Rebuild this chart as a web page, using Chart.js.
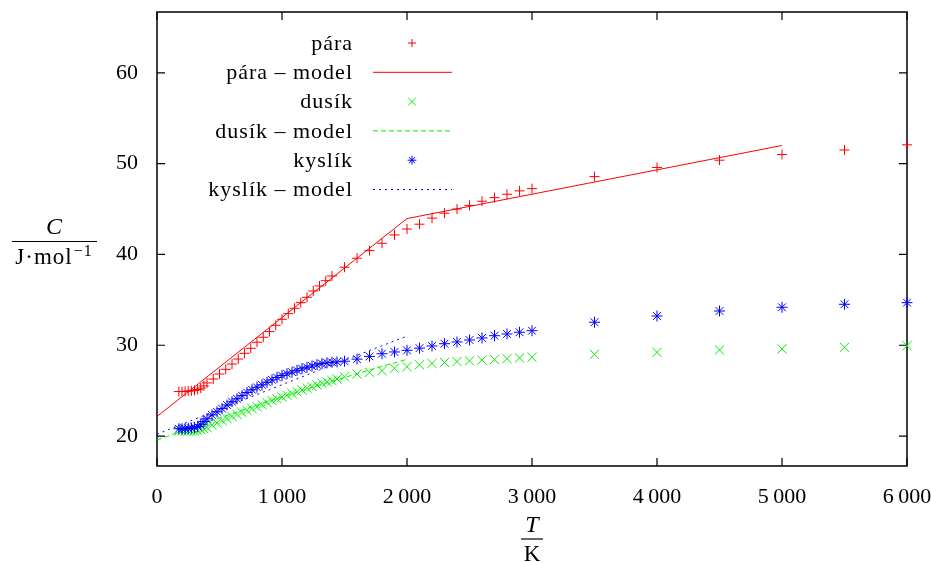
<!DOCTYPE html>
<html>
<head>
<meta charset="utf-8">
<script src="https://cdn.jsdelivr.net/npm/chart.js@4.4.1/dist/chart.umd.min.js"></script>
<style>
  html, body { margin: 0; background: #fff; }
  canvas { display: block; }
</style>
</head>
<body>
<canvas id="heatChart" width="931" height="563"></canvas>
<script>
/* ---------- data ---------- */

// pára – measured points
const paraT = [175, 200, 225, 250, 275, 300, 325, 350, 375, 400,
  450, 500, 550, 600, 650, 700, 750, 800, 850, 900, 950, 1000,
  1050, 1100, 1150, 1200, 1250, 1300, 1350, 1400, 1500, 1600, 1700,
  1800, 1900, 2000, 2100, 2200, 2300, 2400, 2500, 2600, 2700, 2800,
  2900, 3000, 3500, 4000, 4500, 5000, 5500, 6000];
const paraC = [24.90, 24.90, 24.92, 24.95, 24.98, 25.03, 25.12, 25.28, 25.52, 25.85,
  26.28, 26.83, 27.35, 27.93, 28.48, 29.11, 29.66, 30.33, 30.88, 31.50, 32.20, 32.86,
  33.48, 34.07, 34.69, 35.28, 35.98, 36.53, 37.11, 37.63, 38.59, 39.58, 40.42,
  41.23, 42.15, 42.80, 43.33, 44.00, 44.54, 45.00, 45.40, 45.86, 46.26, 46.63,
  47.00, 47.25, 48.57, 49.57, 50.38, 51.00, 51.50, 52.07];

// pára – model (two straight pieces)
const paraModelT = [0, 2000, 5000];
const paraModelC = [22.15, 43.95, 52.0];

// dusík, kyslík – measured points (same temperatures)
const gasT = [175, 200, 225, 250, 275, 300, 325, 350, 375, 400,
  440, 480, 520, 560, 600, 640, 680, 720, 760, 800, 840, 880, 920, 960,
  1000, 1040, 1080, 1120, 1160, 1200, 1240, 1280, 1320, 1360, 1400, 1440,
  1500, 1600, 1700, 1800, 1900, 2000, 2100, 2200, 2300, 2400, 2500,
  2600, 2700, 2800, 2900, 3000, 3500, 4000, 4500, 5000, 5500, 6000];
const dusikC = [20.55, 20.55, 20.55, 20.55, 20.56, 20.58, 20.62, 20.70, 20.80, 20.95,
  21.20, 21.45, 21.70, 21.92, 22.15, 22.38, 22.60, 22.82, 23.02, 23.22, 23.45, 23.68, 23.90, 24.10,
  24.30, 24.48, 24.68, 24.88, 25.07, 25.26, 25.44, 25.62, 25.80, 25.96, 26.10, 26.28,
  26.53, 26.83, 27.02, 27.20, 27.46, 27.64, 27.85, 28.00, 28.10, 28.20, 28.28,
  28.36, 28.44, 28.52, 28.60, 28.68, 29.00, 29.22, 29.48, 29.59, 29.77, 29.95];
const kyslikC = [20.80, 20.80, 20.80, 20.85, 20.90, 20.95, 21.05, 21.25, 21.60, 21.90,
  22.33, 22.67, 23.02, 23.42, 23.78, 24.10, 24.45, 24.79, 25.10, 25.37, 25.64, 25.92, 26.19, 26.45,
  26.67, 26.86, 27.04, 27.23, 27.41, 27.57, 27.71, 27.85, 27.98, 28.06, 28.12, 28.17,
  28.24, 28.47, 28.77, 29.07, 29.26, 29.44, 29.68, 29.92, 30.17, 30.36, 30.58,
  30.80, 31.05, 31.24, 31.43, 31.60, 32.53, 33.22, 33.77, 34.18, 34.51, 34.69];

// models for dusík and kyslík (0 … 2000 K)
const modelT = [0, 100, 200, 300, 400, 500, 600, 700, 800, 900, 1000,
  1100, 1200, 1300, 1400, 1500, 1600, 1700, 1800, 1900, 2000];
const dusikModelC = [19.56, 20.06, 20.56, 21.04, 21.53, 22.00, 22.47, 22.94, 23.40, 23.85, 24.30,
  24.74, 25.18, 25.61, 26.03, 26.45, 26.86, 27.27, 27.67, 28.06, 28.45];
const kyslikModelC = [20.20, 20.75, 21.30, 21.85, 22.39, 22.94, 23.49, 24.03, 24.57, 25.11, 25.65,
  26.19, 26.73, 27.27, 27.81, 28.34, 28.87, 29.43, 29.94, 30.47, 31.00];

// axes
const xTicks = [0, 1000, 2000, 3000, 4000, 5000, 6000];
const xTickLabels = ['0', '1\u2009000', '2\u2009000', '3\u2009000', '4\u2009000', '5\u2009000', '6\u2009000'];
const yTicks = [20, 30, 40, 50, 60];
const yTickLabels = ['20', '30', '40', '50', '60'];

/* ---------- helpers ---------- */

const SERIF = '"Liberation Serif", "DejaVu Serif", serif';
const RED = '#ff0000', GREEN = '#00f000', BLUE = '#0000ff';

function toPoints(xs, ys) {
    return xs.map((x, i) => ({ x, y: ys[i] }));
}

function pointSet(label, xs, ys, style, radius, color, order) {
    return {
        label, data: toPoints(xs, ys), showLine: false,
        pointStyle: style, pointRadius: radius, pointBorderWidth: 1,
        borderColor: color, backgroundColor: color,
        clip: false, order
    };
}

function lineSet(label, xs, ys, color, dash, order) {
    return {
        label, data: toPoints(xs, ys), showLine: true,
        pointRadius: 0, borderWidth: 1, borderColor: color,
        borderDash: dash, fill: false, tension: 0, order
    };
}

const datasets = [
    pointSet('pára', paraT, paraC, 'cross', 5, RED, 6),
    lineSet('pára \u2013 model', paraModelT, paraModelC, RED, [], 5),
    pointSet('dusík', gasT, dusikC, 'crossRot', 6.5, GREEN, 4),
    lineSet('dusík \u2013 model', modelT, dusikModelC, GREEN, [5, 3], 3),
    pointSet('kyslík', gasT, kyslikC, 'star', 5.5, BLUE, 2),
    lineSet('kyslík \u2013 model', modelT, kyslikModelC, BLUE, [2, 4], 1)
];

/* ---------- frame, inward ticks, legend and titles ---------- */

const gnuplotLook = {
    id: 'gnuplotLook',
    beforeDatasetsDraw(chart) {
        const { ctx, chartArea: a, scales } = chart;
        ctx.save();
        ctx.strokeStyle = '#000';
        ctx.lineWidth = 1.5;
        ctx.strokeRect(a.left, a.top, a.right - a.left, a.bottom - a.top);
        ctx.lineWidth = 1.2;
        const len = 8;
        ctx.beginPath();
        xTicks.forEach(v => {
            const x = scales.x.getPixelForValue(v);
            ctx.moveTo(x, a.bottom); ctx.lineTo(x, a.bottom - len);
            ctx.moveTo(x, a.top); ctx.lineTo(x, a.top + len);
        });
        yTicks.forEach(v => {
            const y = scales.y.getPixelForValue(v);
            ctx.moveTo(a.left, y); ctx.lineTo(a.left + len, y);
            ctx.moveTo(a.right, y); ctx.lineTo(a.right - len, y);
        });
        ctx.stroke();
        ctx.restore();
    },
    afterDraw(chart) {
        const ctx = chart.ctx;
        ctx.save();

        // legend, gnuplot style (text right aligned, sample to the right)
        ctx.font = '22px ' + SERIF;
        ctx.textAlign = 'right';
        ctx.textBaseline = 'middle';
        ctx.letterSpacing = '1px';
        chart.data.datasets.forEach((ds, i) => {
            const y = 43 + i * 29.3;
            ctx.fillStyle = '#000';
            ctx.fillText(ds.label, 353, y + 1);
            ctx.strokeStyle = ds.borderColor;
            ctx.fillStyle = ds.borderColor;
            if (ds.showLine) {
                ctx.lineWidth = ds.borderWidth;
                ctx.setLineDash(ds.borderDash);
                ctx.beginPath();
                ctx.moveTo(373, y);
                ctx.lineTo(452, y);
                ctx.stroke();
                ctx.setLineDash([]);
            } else {
                ctx.lineWidth = ds.pointBorderWidth;
                Chart.helpers.drawPoint(ctx, {
                    pointStyle: ds.pointStyle, radius: ds.pointRadius * 0.8,
                    rotation: 0, borderWidth: ds.pointBorderWidth
                }, 412, y);
            }
        });
        ctx.letterSpacing = '0px';

        // y title:  C / J·mol^-1
        ctx.fillStyle = '#000';
        ctx.strokeStyle = '#000';
        ctx.textBaseline = 'alphabetic';
        ctx.textAlign = 'center';
        ctx.font = 'italic 24px ' + SERIF;
        ctx.fillText('C', 54, 234);
        ctx.lineWidth = 1.2;
        ctx.beginPath();
        ctx.moveTo(12, 241.5); ctx.lineTo(97, 241.5);
        ctx.stroke();
        ctx.textAlign = 'left';
        ctx.font = '23px ' + SERIF;
        ctx.letterSpacing = '1px';
        const base = 'J\u00b7mol';
        const wBase = ctx.measureText(base).width;
        ctx.font = '16px ' + SERIF;
        const sup = '\u22121';
        const wSup = ctx.measureText(sup).width;
        const x0 = 54 - (wBase + wSup + 1) / 2;
        ctx.font = '23px ' + SERIF;
        ctx.fillText(base, x0, 264);
        ctx.font = '16px ' + SERIF;
        ctx.fillText(sup, x0 + wBase + 1, 256);
        ctx.letterSpacing = '0px';

        // x title:  T / K
        const xc = (chart.chartArea.left + chart.chartArea.right) / 2;
        ctx.textAlign = 'center';
        ctx.font = 'italic 24px ' + SERIF;
        ctx.fillText('T', xc, 532);
        ctx.beginPath();
        ctx.moveTo(xc - 11, 539); ctx.lineTo(xc + 11, 539);
        ctx.stroke();
        ctx.font = '23px ' + SERIF;
        ctx.fillText('K', xc, 561);

        ctx.restore();
    }
};

/* ---------- chart ---------- */

const ctx = document.getElementById('heatChart').getContext('2d');

new Chart(ctx, {
    type: 'scatter',
    data: { datasets },
    options: {
        responsive: false,
        animation: false,
        devicePixelRatio: 1,
        layout: { padding: { top: 12, right: 24, left: 0, bottom: 0 } },
        plugins: {
            legend: { display: false },
            tooltip: { enabled: false }
        },
        scales: {
            x: {
                type: 'linear', min: 0, max: 6000,
                border: { display: false },
                grid: { display: false, drawTicks: false },
                ticks: {
                    padding: 18, color: '#000',
                    font: { family: SERIF, size: 22 },
                    maxRotation: 0,
                    callback: (v, i) => xTickLabels[i]
                },
                afterBuildTicks: s => { s.ticks = xTicks.map(v => ({ value: v })); },
                afterFit: s => {
                    s.height = 97;
                    s.paddingLeft = 0; s.paddingRight = 0;
                    s.paddingTop = 0; s.paddingBottom = 0;
                }
            },
            y: {
                type: 'linear', min: 16.7, max: 66.7,
                border: { display: false },
                grid: { display: false, drawTicks: false },
                ticks: {
                    padding: 19, color: '#000',
                    font: { family: SERIF, size: 22 },
                    callback: (v, i) => yTickLabels[i]
                },
                afterBuildTicks: s => { s.ticks = yTicks.map(v => ({ value: v })); },
                afterFit: s => {
                    s.width = 157;
                    s.paddingLeft = 0; s.paddingRight = 0;
                    s.paddingTop = 0; s.paddingBottom = 0;
                }
            }
        }
    },
    plugins: [gnuplotLook]
});
</script>
</body>
</html>
